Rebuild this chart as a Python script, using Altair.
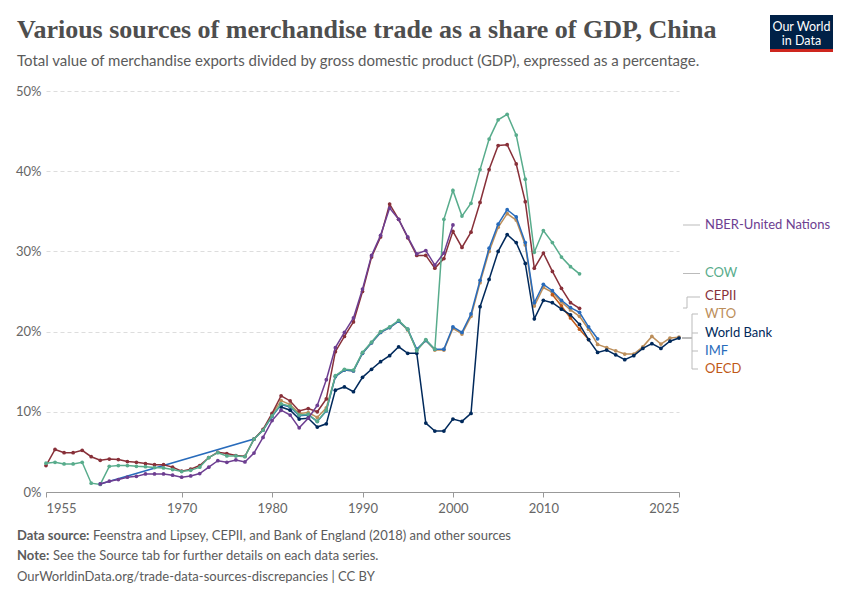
import altair as alt
import pandas as pd

# ---------------- data ----------------
cow_years = list(range(1955, 2015))
cow_values = [3.6, 3.7, 3.5, 3.5, 3.7, 1.1, 0.95, 3.2, 3.3, 3.3,
              3.2, 3.15, 3.05, 3.0, 2.8, 2.55, 2.7, 3.1, 4.3, 4.9,
              4.5, 4.5, 4.4, 6.6, 7.7, 9.5, 11.0, 10.7, 9.6, 9.7,
              8.8, 10.2, 14.5, 15.3, 15.2, 17.4, 18.7, 20.0, 20.6, 21.4,
              20.3, 17.6, 19.0, 17.8, 34.0, 37.6, 34.4, 36.0, 40.2, 44.0,
              46.4, 47.1, 44.5, 39.0, 29.9, 32.6, 31.1, 29.3, 28.1, 27.2]

cepii_years = list(range(1955, 2015))
cepii_values = [3.3, 5.3, 4.9, 4.9, 5.2, 4.4, 3.95, 4.1, 4.05, 3.8,
                3.7, 3.55, 3.4, 3.4, 3.1, 2.6, 2.85, 3.3, 4.3, 4.95,
                4.8, 4.55, 4.45, 6.6, 7.8, 9.8, 12.0, 11.35, 10.1, 10.4,
                10.0, 11.6, 17.5, 19.4, 21.2, 25.0, 29.3, 31.8, 35.9, 34.0,
                31.7, 29.5, 29.5, 27.9, 29.1, 32.5, 30.5, 32.4, 36.1, 40.2,
                43.2, 43.3, 40.9, 36.2, 27.9, 29.8, 27.5, 25.4, 23.6, 22.9]

nber_years = list(range(1961, 2001))
nber_values = [1.0, 1.35, 1.55, 1.85, 1.95, 2.25, 2.25, 2.25, 2.1,
               1.85, 2.0, 2.3, 3.1, 3.9, 3.7, 4.0, 3.75, 4.85, 6.8,
               8.9, 10.2, 9.6, 8.0, 9.2, 10.8, 14.0, 18.0, 19.9, 21.7,
               25.3, 29.5, 32.0, 35.4, 34.0, 31.8, 29.7, 30.1, 28.3, 29.8,
               33.3]

imf_years = [1961] + list(range(1978, 2017))
imf_values = [1.0,
              6.6, 7.7, 9.4, 10.9, 10.6, 9.5, 9.6, 8.8, 10.1, 14.4,
              15.2, 15.1, 17.3, 18.6, 19.9, 20.5, 21.3, 20.3, 17.8, 18.9,
              17.8, 17.8, 20.6, 19.9, 22.2, 26.4, 30.4, 33.4, 35.2, 34.3,
              31.1, 23.6, 25.9, 25.1, 23.9, 23.0, 22.4, 20.6, 19.1]

wto_years = list(range(1980, 2026))
wto_values = [9.7, 11.4, 10.9, 9.8, 9.9, 9.3, 10.5, 14.4, 15.2, 15.1,
              17.3, 18.6, 19.9, 20.5, 21.3, 20.2, 17.7, 18.9, 17.7, 17.7,
              20.4, 19.7, 21.9, 26.1, 30.0, 33.0, 34.7, 33.9, 30.8, 23.2,
              25.5, 24.9, 23.7, 22.7, 21.9, 20.3, 18.4, 18.0, 17.6, 17.2,
              17.2, 18.1, 19.4, 18.45, 19.2, 19.3]

wb_years = list(range(1981, 2026))
wb_values = [10.6, 10.2, 9.1, 9.2, 8.1, 8.5, 12.7, 13.1, 12.5,
             14.3, 15.3, 16.25, 17.0, 18.1, 17.3, 17.3, 8.6, 7.6, 7.6,
             9.1, 8.8, 9.8, 23.1, 26.5, 30.0, 32.1, 31.1, 28.5, 21.6,
             23.9, 23.6, 22.8, 22.1, 20.9, 19.0, 17.4, 17.7, 17.1, 16.5,
             17.0, 17.9, 18.5, 17.9, 18.8, 19.2]

oecd_years = list(range(2011, 2016))
oecd_values = [24.6, 23.2, 21.7, 20.3, 19.0]

series_names = ["WTO", "OECD", "IMF", "World Bank", "CEPII", "COW", "NBER-United Nations"]
series_data = {
    "WTO": (wto_years, wto_values),
    "OECD": (oecd_years, oecd_values),
    "IMF": (imf_years, imf_values),
    "World Bank": (wb_years, wb_values),
    "CEPII": (cepii_years, cepii_values),
    "COW": (cow_years, cow_values),
    "NBER-United Nations": (nber_years, nber_values),
}

x_ticks = [1955, 1970, 1980, 1990, 2000, 2010, 2025]
y_ticks = [0, 10, 20, 30, 40, 50]

title_text = "Various sources of merchandise trade as a share of GDP, China"
subtitle_text = ("Total value of merchandise exports divided by gross domestic product (GDP), "
                 "expressed as a percentage.")

# ---------------- styles ----------------
colors = {
    "NBER-United Nations": "#6D3E91",
    "COW": "#58AC8C",
    "CEPII": "#883039",
    "WTO": "#BC8E5A",
    "World Bank": "#00295B",
    "IMF": "#286BBB",
    "OECD": "#C05917",
}
FONT = "Lato"
W, H = 633, 401

xscale = alt.Scale(domain=[1955, 2025], nice=False, zero=False)
yscale = alt.Scale(domain=[0, 50], nice=False)
xaxis = alt.Axis(values=x_ticks, format="d", labelFlush=True, tickSize=5,
                 tickColor="#999", domainColor="#999", labelColor="#666",
                 labelFont=FONT, labelFontSize=13, labelPadding=5, grid=False, title=None)
yaxis = alt.Axis(values=y_ticks, labelExpr="datum.value + '%'", ticks=False, domain=False,
                 grid=True, gridDash=[4, 3], gridColor="#dddddd", labelColor="#666",
                 labelFont=FONT, labelFontSize=13, labelPadding=5, title=None)

layers = []
for name in series_names:
    yrs, vals = series_data[name]
    df = pd.DataFrame({"year": yrs, "value": vals, "series": name})
    c = colors[name]
    layers.append(
        alt.Chart(df).mark_line(
            strokeWidth=1.5, color=c,
            point=alt.OverlayMarkDef(filled=True, size=14, color=c, opacity=1),
        ).encode(
            x=alt.X("year:Q", scale=xscale, axis=xaxis),
            y=alt.Y("value:Q", scale=yscale, axis=yaxis),
            tooltip=["series:N", "year:Q", "value:Q"],
        )
    )

one = pd.DataFrame({"k": [0]})


def px(x):  # page x -> plot-relative x
    return x - 46


def py(y):  # page y -> plot-relative y
    return y - 91


def text(t, x, y, size, color="#5b5b5b", weight="normal", font=FONT, baseline="middle", align="left"):
    return alt.Chart(one).mark_text(
        text=t, font=font, fontSize=size, fontWeight=weight, color=color,
        align=align, baseline=baseline,
    ).encode(x=alt.value(px(x)), y=alt.value(py(y)))


def seg(x1, y1, x2, y2, color="#bbbbbb", width=1):
    return alt.Chart(one).mark_rule(color=color, strokeWidth=width).encode(
        x=alt.value(px(x1)), x2=alt.value(px(x2)), y=alt.value(py(y1)), y2=alt.value(py(y2)))


# title & subtitle
layers.append(text(title_text, 17, 38, 26, color="#4e4e4e", weight="bold",
                   font="Liberation Serif", baseline="alphabetic"))
layers.append(text(subtitle_text, 17, 61, 15, color="#5b5b5b"))

# logo
layers.append(alt.Chart(one).mark_rect(color="#002147").encode(
    x=alt.value(px(770)), x2=alt.value(px(833)), y=alt.value(py(15)), y2=alt.value(py(49))))
layers.append(alt.Chart(one).mark_rect(color="#ce261e").encode(
    x=alt.value(px(770)), x2=alt.value(px(833)), y=alt.value(py(49)), y2=alt.value(py(52))))
layers.append(text("Our World", 801.5, 27, 12.5, color="white", align="center"))
layers.append(text("in Data", 801.5, 41, 12.5, color="white", align="center"))

# line labels
label_pos = {
    "NBER-United Nations": 225, "COW": 273, "CEPII": 296, "WTO": 314,
    "World Bank": 333, "IMF": 351, "OECD": 369,
}
for name, ly in label_pos.items():
    layers.append(text(name, 705, ly, 13, color=colors[name]))

# connectors
layers += [
    seg(683, 225, 700, 225),
    seg(683, 273.5, 700, 273.5),
    seg(683, 308, 687, 308), seg(687, 308, 687, 297), seg(687, 297, 700, 297),
    seg(682, 338, 692, 338, width=2),
    seg(692, 314, 692, 369),
    seg(692, 314, 698, 314), seg(692, 333, 698, 333),
    seg(692, 351, 698, 351), seg(692, 369, 698, 369),
]

# footer
layers.append(text("Data source:", 17, 536, 13, weight="bold"))
layers.append(text("Feenstra and Lipsey, CEPII, and Bank of England (2018) and other sources", 93, 536, 13))
layers.append(text("Note:", 17, 556, 13, weight="bold"))
layers.append(text("See the Source tab for further details on each data series.", 53, 556, 13))
layers.append(text("OurWorldinData.org/trade-data-sources-discrepancies | CC BY", 17, 577, 13))

chart = alt.layer(*layers).properties(
    width=W, height=H,
    padding={"left": 38, "top": 83, "right": 163, "bottom": 100},
    autosize=alt.AutoSizeParams(type="none"),
    background="white",
).configure_view(stroke=None)

chart.save("out.html", embed_options={"renderer": "svg", "actions": False})
